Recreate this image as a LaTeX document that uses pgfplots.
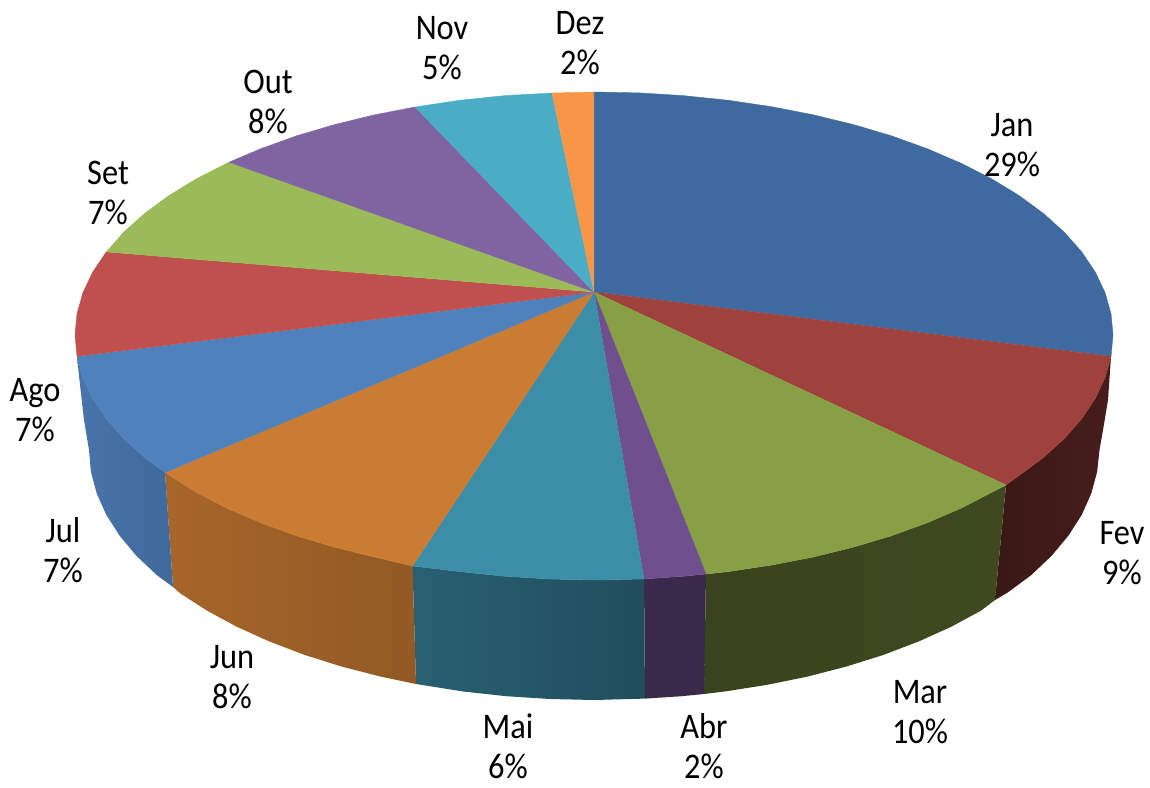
\documentclass[border=0pt]{standalone}
\usepackage{fontspec}
\setmainfont[FakeStretch=0.9]{Carlito}
\usepackage{pgfplots}
\pgfplotsset{compat=1.18}
\definecolor{jan}{HTML}{3E6A9F}
\definecolor{fev}{HTML}{9F413C}
\definecolor{mar}{HTML}{87A045}
\definecolor{abr}{HTML}{704F8E}
\definecolor{mai}{HTML}{3B8DA8}
\definecolor{jun}{HTML}{CB7C33}
\definecolor{jul}{HTML}{4F81BD}
\definecolor{ago}{HTML}{C0504D}
\definecolor{set}{HTML}{9BBB59}
\definecolor{out}{HTML}{8064A2}
\definecolor{nov}{HTML}{4BACC6}
\definecolor{dez}{HTML}{F79646}
\tikzset{lab/.style={font=\fontsize{36}{40}\selectfont, align=center, text=black, inner sep=0pt}}
\begin{document}
\begin{tikzpicture}
\begin{axis}[
  scale only axis, width=1150pt, height=787pt,
  xmin=0, xmax=1150, ymin=0, ymax=787, y dir=reverse,
  hide axis, clip=false,
]
\path (axis cs:0,0) rectangle (axis cs:1150,787);
% walls
\addplot[left color=black!62!fev!95!black, right color=black!55!fev, draw=none] coordinates {(1006,485)(1019.1,475.5)(1043.5,457.5)(1064.4,438.5)(1081.7,418.8)(1095.3,398.4)(1105.1,377.5)(1111,356.4)(1108,400)(1103,430)(1099.5,450)(1097.1,471.8)(1091.3,493.4)(1081.8,514.7)(1068.5,535.5)(1051.7,555.7)(1031.3,575)(1007.7,592.5)(995,600)};
\addplot[left color=mar!42!black, right color=mar!46!black, draw=none] coordinates {(706,574)(728.3,571.6)(771.5,565.1)(813.3,557)(853.5,547.1)(891.7,535.7)(927.6,522.6)(961,508.2)(991.6,492.4)(1006,485)(995,600)(980.9,610.7)(951.1,626.8)(918.6,641.5)(883.7,654.8)(846.5,666.5)(807.4,676.6)(766.7,684.9)(724.7,691.5)(704,694)};
\addplot[fill=abr!52!black, draw=none] coordinates {(644,579)(684.1,576.2)(706,574)(704,694)(681.7,696.2)(645,698.6)};
\addplot[left color=mai!68!black, right color=mai!55!black, draw=none] coordinates {(412.5,566)(459.7,571.6)(503.9,576.2)(548.8,579)(594,580)(644,579)(645,698.6)(594,700)(550,699)(506.3,696.2)(463.3,691.5)(416,684)};
\addplot[left color=jun!82!black, right color=jun!72!black, draw=none] coordinates {(165,472.5)(196.4,492.4)(227,508.2)(260.4,522.6)(296.3,535.7)(334.5,547.1)(374.7,557)(412.5,566)(416,684)(380.6,676.6)(341.5,666.5)(304.3,654.8)(269.4,641.5)(236.9,626.8)(207.1,610.7)(180.3,593.4)(173,587)};
\addplot[left color=jul!90!black, right color=jul!82!black, draw=none] coordinates {(165,472.5)(144.5,457.5)(123.6,438.5)(106.3,418.8)(92.7,398.4)(82.9,377.5)(77,356.4)(80,385)(84,420)(89,450)(90.9,471.8)(96.7,493.4)(106.2,514.7)(119.5,535.5)(136.3,555.7)(156.7,575)(173,587)};
% top slices
\addplot[fill=jan, draw=jan] coordinates {(594,292)(594,92)(639.2,92.9)(684.1,95.7)(728.3,100.3)(771.5,106.7)(813.3,114.8)(853.5,124.6)(891.7,135.9)(927.6,148.9)(961,163.2)(991.6,178.8)(1019.1,195.6)(1043.5,213.5)(1064.4,232.3)(1081.7,251.9)(1095.3,272.1)(1105.1,292.8)(1111,313.8)(1113,335)(1111,356.4)};
\addplot[fill=fev, draw=fev] coordinates {(594,292)(1111,356.4)(1105.1,377.5)(1095.3,398.4)(1081.7,418.8)(1064.4,438.5)(1043.5,457.5)(1019.1,475.5)(1006,485)};
\addplot[fill=mar, draw=mar] coordinates {(594,292)(1006,485)(991.6,492.4)(961,508.2)(927.6,522.6)(891.7,535.7)(853.5,547.1)(813.3,557)(771.5,565.1)(728.3,571.6)(706,574)};
\addplot[fill=abr, draw=abr] coordinates {(594,292)(706,574)(684.1,576.2)(644,579)};
\addplot[fill=mai, draw=mai] coordinates {(594,292)(644,579)(594,580)(548.8,579)(503.9,576.2)(459.7,571.6)(412.5,566)};
\addplot[fill=jun, draw=jun] coordinates {(594,292)(412.5,566)(374.7,557)(334.5,547.1)(296.3,535.7)(260.4,522.6)(227,508.2)(196.4,492.4)(165,472.5)};
\addplot[fill=jul, draw=jul] coordinates {(594,292)(165,472.5)(144.5,457.5)(123.6,438.5)(106.3,418.8)(92.7,398.4)(82.9,377.5)(77,356.4)};
\addplot[fill=ago, draw=ago] coordinates {(594,292)(77,356.4)(75,335)(77,313.8)(82.9,292.8)(92.7,272.1)(106.3,251.9)};
\addplot[fill=set, draw=set] coordinates {(594,292)(106.3,251.9)(123.6,232.3)(144.5,213.5)(168.9,195.6)(196.4,178.8)(229,162.2)};
\addplot[fill=out, draw=out] coordinates {(594,292)(229,162.2)(260.4,148.9)(296.3,135.9)(334.5,124.6)(374.7,114.8)(415,107)};
\addplot[fill=nov, draw=nov] coordinates {(594,292)(415,107)(459.7,100.3)(503.9,95.7)(552,93)};
\addplot[fill=dez, draw=dez] coordinates {(594,292)(552,93)(594,92)};
% labels
\node[lab] at (axis cs:1012,145) {Jan\\29\%};
\node[lab] at (axis cs:1122,553) {Fev\\9\%};
\node[lab] at (axis cs:920,712) {Mar\\10\%};
\node[lab] at (axis cs:704,746) {Abr\\2\%};
\node[lab] at (axis cs:508,746) {Mai\\6\%};
\node[lab] at (axis cs:232,677) {Jun\\8\%};
\node[lab] at (axis cs:63,550) {Jul\\7\%};
\node[lab] at (axis cs:35,410) {Ago\\7\%};
\node[lab] at (axis cs:108,193) {Set\\7\%};
\node[lab] at (axis cs:268,102) {Out\\8\%};
\node[lab] at (axis cs:442,48) {Nov\\5\%};
\node[lab] at (axis cs:580,43) {Dez\\2\%};
\end{axis}
\end{tikzpicture}
\end{document}
